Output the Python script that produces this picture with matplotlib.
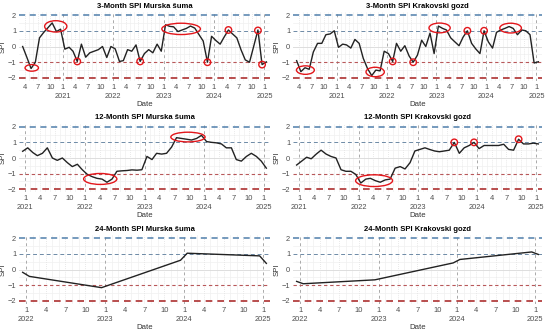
import pandas as pd
import matplotlib
matplotlib.use("Agg")
import matplotlib.pyplot as plt
import matplotlib.dates as mdates
from matplotlib.patches import Ellipse

plt.rcParams["font.family"] = ["Liberation Sans", "DejaVu Sans"]

# ---- data (monthly SPI values) ----
spi3_murska = [
    0.0, -0.7, -1.4, -1.0, 0.55, 0.9, 1.2, 1.5, 0.95, 1.1,
    -0.17, -0.05, -0.3, -0.95, 0.15, -0.68, -0.4, -0.3, -0.2, 0.0, -0.7, 0.0,
    -0.15, -0.95, -0.9, -0.2, -0.3, 0.1, -0.95, -0.45, -0.2, -0.4, 0.15, -0.3,
    1.38, 1.28, 1.25, 0.95, 1.05, 1.15, 1.3, 1.17, 0.75, 0.35, -1.0, 0.65,
    0.38, 0.15, 0.6, 1.05, 0.8, 0.55, -0.2, -0.85, -1.0, 0.0, 1.05, -1.15,
    -0.98,
]
spi3_krakovski = [
    -0.9, -1.6, -1.35, -1.45, -0.35, 0.2, 0.2, 0.75, 0.8, 1.0,
    -0.05, 0.15, 0.1, -0.1, 0.45, 0.2, -0.75, -1.4, -1.85, -1.5, -1.55, -0.3,
    -0.45, -0.95, 0.2, -0.3, 0.05, -0.6, -1.0, -0.55, 0.4, 0.0, 0.85, -0.45,
    1.3, 1.15, 1.05, 0.55, 0.3, 0.05, 0.6, 1.0, 0.2, -0.15, -0.45, 1.0,
    0.3, -0.1, 0.9, 1.05, 1.15, 1.27, 1.15, 0.75, 1.05, 1.0, 0.75, -1.05,
    -0.97,
]
spi12_murska = [
    0.43,
    0.65, 0.35, 0.15, 0.3, 0.65, 0.0, -0.15, 0.0, -0.3, -0.55, -0.4, -0.75,
    -1.05, -1.2, -1.3, -1.35, -1.55, -1.35, -0.85, -0.82, -0.8, -0.76, -0.78, -0.75,
    0.1, -0.1, 0.3, 0.25, 0.3, 0.7, 1.3, 1.25, 1.2, 1.15, 1.25, 1.45,
    1.05, 1.0, 0.97, 0.9, 0.65, 0.65, -0.1, -0.2, 0.1, 0.3, 0.1, -0.2,
    -0.65,
]
spi12_krakovski = [
    -0.45,
    -0.2, 0.05, -0.05, 0.25, 0.5, 0.25, 0.1, 0.0, -0.75, -0.85, -0.85, -1.05,
    -1.6, -1.35, -1.3, -1.45, -1.55, -1.4, -1.35, -0.65, -0.55, -0.7, -0.3, 0.45,
    0.55, 0.65, 0.55, 0.45, 0.4, 0.45, 0.5, 1.0, 0.3, 0.65, 0.8, 1.0,
    0.6, 0.8, 0.8, 0.8, 0.8, 0.88, 0.55, 0.5, 1.2, 0.9, 0.9, 0.95,
    0.9,
]
dates_24 = ["2021-12-15", "2022-01-15", "2022-12-15", "2023-12-15",
            "2024-01-15", "2024-12-15", "2025-01-15"]
spi24_murska = [-0.17, -0.43, -1.15, 0.6, 1.05, 0.88, 0.4]
spi24_krakovski = [-0.75, -0.9, -0.65, 0.43, 0.65, 1.13, 0.97]

dates_3 = pd.date_range("2020-03-01", periods=len(spi3_murska), freq="MS") + pd.Timedelta(days=14)
dates_12 = pd.date_range("2020-12-01", periods=len(spi12_murska), freq="MS") + pd.Timedelta(days=14)
dates_24 = pd.to_datetime(dates_24)

# highlighted periods: centre date, centre SPI, width (months), height (SPI)
ellipses = {
    "m3": [("2020-05-20", -1.36, 3.2, 0.42), ("2020-11-10", 1.28, 5.3, 0.72),
           ("2023-05-08", 1.12, 9.2, 0.72)],
    "k3": [("2020-05-18", -1.5, 4.3, 0.54), ("2021-10-10", -1.62, 4.4, 0.6),
           ("2023-01-24", 1.18, 5.1, 0.62), ("2024-06-26", 1.17, 5.2, 0.62)],
    "m12": [("2022-04-04", -1.34, 6.7, 0.7), ("2023-09-23", 1.34, 6.9, 0.62)],
    "k12": [("2022-04-07", -1.45, 7.5, 0.75)],
}
circles = {
    "m3": [("2021-04-15", -0.95), ("2022-07-15", -0.95), ("2023-11-15", -1.0),
           ("2024-04-15", 1.05), ("2024-11-15", 1.02), ("2024-12-15", -1.15)],
    "k3": [("2022-02-15", -0.95), ("2022-07-15", -1.0), ("2023-08-15", 1.0),
           ("2023-12-15", 1.0)],
    "k12": [("2023-08-15", 1.0), ("2023-12-15", 1.0), ("2024-09-15", 1.2)],
}

panels = [
    ("3-Month SPI Murska šuma", dates_3, spi3_murska, "m3", "2020-04-01"),
    ("3-Month SPI Krakovski gozd", dates_3, spi3_krakovski, "k3", "2020-04-01"),
    ("12-Month SPI Murska šuma", dates_12, spi12_murska, "m12", "2021-01-01"),
    ("12-Month SPI Krakovski gozd", dates_12, spi12_krakovski, "k12", "2021-01-01"),
    ("24-Month SPI Murska šuma", dates_24, spi24_murska, None, "2022-01-01"),
    ("24-Month SPI Krakovski gozd", dates_24, spi24_krakovski, None, "2022-01-01"),
]

fig = plt.figure(figsize=(5.5, 3.31), dpi=100)
W, H = 550, 331
col_x = [(19, 270), (293, 542)]
row_y = [(11.9, 81.1), (123.6, 192.4), (235.2, 304.1)]

for i, (title, dates, values, key, first_tick) in enumerate(panels):
    r, c = divmod(i, 2)
    x0, x1 = col_x[c]
    top, bot = row_y[r]
    ax = fig.add_axes([x0 / W, 1 - bot / H, (x1 - x0) / W, (bot - top) / H])

    # reference levels
    ax.axhline(2, color="#4f7eab", lw=1.1, ls=(0, (4, 3)), zorder=2)
    ax.axhline(1, color="#6d8aa6", lw=0.7, ls=(0, (4, 3)), zorder=2)
    ax.axhline(0, color="#dddddd", lw=0.7, zorder=1)
    ax.axhline(-1, color="#b8585a", lw=0.8, ls=(0, (3, 2.5)), zorder=2)
    ax.axhline(-2, color="#ad3030", lw=1.2, ls=(0, (4, 3)), zorder=2)

    ticks = pd.date_range(first_tick, "2025-01-01", freq="3MS")
    for t in ticks:
        if t.month == 1:
            ax.axvline(t, color="#aaaaaa", lw=0.7, ls=(0, (3, 3)), zorder=1)
        else:
            ax.axvline(t, color="#e2e2e2", lw=0.6, ls=(0, (1, 1.5)), zorder=1)
    for t in pd.date_range(first_tick, "2025-01-01", freq="MS"):
        if (t.month - 1) % 3:
            ax.axvline(t, color="#f0f0f0", lw=0.5, zorder=0)
    for yv in (-1.5, -0.5, 0.5, 1.5):
        ax.axhline(yv, color="#f0f0f0", lw=0.5, zorder=0)

    ax.plot(dates, values, color="#222222", lw=1.0, zorder=3)

    if key in ellipses:
        for d, yc, wm, hh in ellipses[key]:
            ax.add_patch(Ellipse((mdates.date2num(pd.Timestamp(d)), yc), wm * 30.4, hh,
                                 fill=False, ec="#e3161b", lw=1.0, zorder=4))
    if key in circles:
        cd = [pd.Timestamp(d) for d, _ in circles[key]]
        cv = [v for _, v in circles[key]]
        ax.scatter(cd, cv, s=22, facecolors="none", edgecolors="#e3161b",
                   linewidths=1.0, zorder=4)

    span = dates[-1] - dates[0]
    ax.set_xlim(dates[0] - span * 0.015, dates[-1] + span * 0.015)
    ax.set_ylim(-2.2, 2.2)
    ax.set_yticks([-2, -1, 0, 1, 2])
    ax.set_xticks(ticks)
    labels = ax.set_xticklabels(
        [f"{t.month}\n{t.year}" if t.month == 1 else f"{t.month}" for t in ticks],
        linespacing=1.35, va="top")
    ax.tick_params(length=0, labelsize=5.4, colors="#4d4d4d", pad=2)
    for s in ax.spines.values():
        s.set_visible(False)
    ax.set_title(title, fontsize=5.5, fontweight="bold", pad=3)
    ax.set_xlabel("Date", fontsize=5.6, color="#333333", labelpad=1)
    ax.set_ylabel("SPI", fontsize=5.6, color="#333333", labelpad=1)

fig.savefig("out.png", dpi=100)
